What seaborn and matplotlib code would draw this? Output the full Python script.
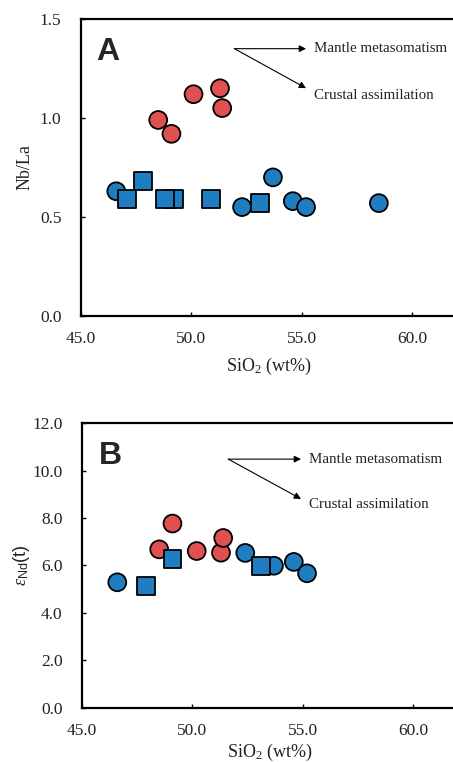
import matplotlib
matplotlib.use('Agg')
import matplotlib.pyplot as plt
import pandas as pd
import seaborn as sns

# panel A: Nb/La vs SiO2
a_red_sio2 = [48.5, 49.1, 50.1, 51.3, 51.4]
a_red_nbla = [0.99, 0.92, 1.12, 1.15, 1.05]
a_circ_sio2 = [46.6, 53.7, 52.3, 54.6, 55.2, 58.5]
a_circ_nbla = [0.63, 0.70, 0.55, 0.58, 0.55, 0.57]
a_sq_sio2 = [47.1, 47.8, 49.2, 48.8, 50.9, 53.1]
a_sq_nbla = [0.59, 0.68, 0.59, 0.59, 0.59, 0.57]

# panel B: eNd(t) vs SiO2
b_red_sio2 = [48.5, 49.1, 50.2, 51.3, 51.4]
b_red_end = [6.68, 7.77, 6.61, 6.54, 7.16]
b_circ_sio2 = [46.6, 52.4, 53.7, 54.6, 55.2]
b_circ_end = [5.29, 6.53, 5.99, 6.15, 5.67]
b_sq_sio2 = [47.9, 49.1, 53.1]
b_sq_end = [5.14, 6.29, 5.99]

RED = '#E05050'
BLUE = '#1F7EC1'

sns.set_theme(style='ticks')
plt.rcParams['font.family'] = ['Liberation Serif', 'DejaVu Serif']
plt.rcParams['mathtext.fontset'] = 'custom'
plt.rcParams['mathtext.rm'] = 'Liberation Serif'
plt.rcParams['mathtext.it'] = 'Liberation Serif:italic'
plt.rcParams['mathtext.sf'] = 'Liberation Sans'


def make_df(red_x, red_y, circ_x, circ_y, sq_x, sq_y):
    rows = []
    for x, y in zip(red_x, red_y):
        rows.append((x, y, 'red', 'circle'))
    for x, y in zip(circ_x, circ_y):
        rows.append((x, y, 'blue', 'circle'))
    for x, y in zip(sq_x, sq_y):
        rows.append((x, y, 'blue', 'square'))
    return pd.DataFrame(rows, columns=['sio2', 'val', 'grp', 'shape'])


def panel(ax, df, ylim, yticks, ylabel, letter, ann, ylab_x, xlab_pad):
    for shape, mk in [('circle', 'o'), ('square', 's')]:
        sub = df[df['shape'] == shape]
        sns.scatterplot(data=sub, x='sio2', y='val', hue='grp',
                        palette={'red': RED, 'blue': BLUE}, marker=mk,
                        s=165, edgecolor='black', linewidth=1.3,
                        legend=False, ax=ax, zorder=3)
    ax.set_xlim(45, 62)
    ax.set_ylim(*ylim)
    ax.set_xticks([45, 50, 55, 60])
    ax.set_xticklabels(['45.0', '50.0', '55.0', '60.0'])
    ax.set_yticks(yticks)
    ax.set_yticklabels(['%.1f' % t for t in yticks])
    ax.tick_params(direction='in', length=3, width=1, labelsize=12.5,
                   colors='black', labelcolor='#222222')
    ax.tick_params(axis='y', pad=14)
    ax.tick_params(axis='x', pad=11)
    for sp in ax.spines.values():
        sp.set_linewidth(1.6)
        sp.set_color('black')
    ax.set_xlabel(r'SiO$_2$ (wt%)', fontsize=13, labelpad=xlab_pad, color='#222222')
    ax.set_ylabel(ylabel, fontsize=13, color='#222222', va='center')
    ax.yaxis.set_label_coords(ylab_x, 0.5)
    lx, ly = letter[1], letter[2]
    ax.text(lx, ly, letter[0], transform=ax.transAxes, fontsize=23,
            fontweight='bold', family='Liberation Sans', ha='center', va='center')
    x0, y0, x1, y1d, tx, ty1, ty2 = ann
    ax.annotate('', xy=(x1, y0), xytext=(x0, y0), xycoords='axes fraction',
                arrowprops=dict(arrowstyle='-|>', color='black', lw=0.8,
                                mutation_scale=10, shrinkA=0, shrinkB=0))
    ax.annotate('', xy=(x1, y1d), xytext=(x0, y0), xycoords='axes fraction',
                arrowprops=dict(arrowstyle='-|>', color='black', lw=0.8,
                                mutation_scale=10, shrinkA=0, shrinkB=0))
    ax.text(tx, ty1, 'Mantle metasomatism', transform=ax.transAxes,
            fontsize=10.8, va='center', ha='left', color='#222222')
    ax.text(tx, ty2, 'Crustal assimilation', transform=ax.transAxes,
            fontsize=10.8, va='center', ha='left', color='#222222')


fig = plt.figure(figsize=(4.53, 7.62), dpi=100)
ax1 = fig.add_axes([0.1788, 0.5853, 0.828, 0.3898])
ax2 = fig.add_axes([0.181, 0.0713, 0.828, 0.3732])

dfa = make_df(a_red_sio2, a_red_nbla, a_circ_sio2, a_circ_nbla, a_sq_sio2, a_sq_nbla)
dfb = make_df(b_red_sio2, b_red_end, b_circ_sio2, b_circ_end, b_sq_sio2, b_sq_end)

panel(ax1, dfa, (0, 1.5), [0.0, 0.5, 1.0, 1.5], 'Nb/La', ('A', 0.071, 0.89),
      (0.409, 0.900, 0.600, 0.767, 0.621, 0.900, 0.744), -0.149, 6)
panel(ax2, dfb, (0, 12), [0.0, 2.0, 4.0, 6.0, 8.0, 10.0, 12.0],
      r'$\varepsilon_{\mathsf{Nd}}\mathsf{(t)}$', ('B', 0.075, 0.885),
      (0.390, 0.874, 0.584, 0.734, 0.605, 0.874, 0.713), -0.161, 2)

fig.savefig('out.png', dpi=100)
